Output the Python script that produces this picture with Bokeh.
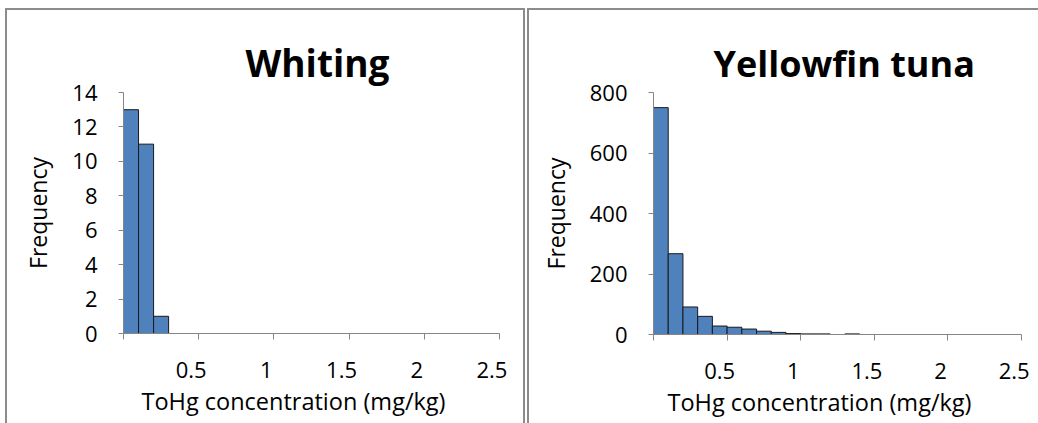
from bokeh.plotting import figure
from bokeh.models import FixedTicker, LinearAxis, Range1d, ColumnDataSource, Spacer, Title
from bokeh.layouts import row, column
from bokeh.embed import file_html
from bokeh.resources import INLINE

FONT = "Open Sans"
BIN_WIDTH = 0.1

# ---- data ----
whiting_bin_left = [0.0, 0.1, 0.2]
whiting_counts = [13, 11, 1]

tuna_bin_left = [0.0, 0.1, 0.2, 0.3, 0.4, 0.5, 0.6, 0.7, 0.8, 0.9, 1.0, 1.1, 1.2, 1.3]
tuna_counts = [750, 267, 91, 60, 28, 24, 18, 11, 7, 3, 2, 2, 0, 2]

x_tick_values = [0.0, 0.5, 1.0, 1.5, 2.0, 2.5]
x_tick_labels = ["0.5", "1", "1.5", "2", "2.5"]   # shown for ticks 0.5 .. 2.5

whiting_y_ticks = [0, 2, 4, 6, 8, 10, 12, 14]
tuna_y_ticks = [0, 200, 400, 600, 800]

AXIS_COLOR = "#868686"
BAR_COLOR = "#4f81bd"
BORDER = "2px solid #8c8c8c"


def make_panel(title, lefts, counts, yticks, ymax, frame_w, frame_h,
               mb_left, mb_right, mb_top, mb_bottom, title_size, title_offset,
               xtitle_offset, styles):
    p = figure(frame_width=frame_w, frame_height=frame_h,
               x_range=Range1d(0, 2.5), y_range=Range1d(0, ymax),
               output_backend="svg", toolbar_location=None,
               x_axis_location=None, y_axis_location=None,
               min_border_left=mb_left, min_border_right=mb_right,
               min_border_top=mb_top, min_border_bottom=mb_bottom,
               title=title, styles=styles)
    p.grid.visible = False
    p.outline_line_color = None
    p.background_fill_color = "white"
    p.border_fill_color = "white"

    p.title.text_font = FONT
    p.title.text_font_size = title_size
    p.title.text_font_style = "bold"
    p.title.text_color = "black"
    p.title.align = "left"
    p.title.offset = title_offset
    p.title.standoff = 10

    src = ColumnDataSource(dict(
        left=lefts,
        right=[l + BIN_WIDTH for l in lefts],
        top=counts,
    ))
    p.quad(left="left", right="right", top="top", bottom=0, source=src,
           fill_color=BAR_COLOR, line_color="#1a1a1a", line_width=1)

    # y axis
    ya = LinearAxis(ticker=FixedTicker(ticks=yticks))
    ya.axis_label = "Frequency"
    ya.axis_label_text_font = FONT
    ya.axis_label_text_font_size = "23px"
    ya.axis_label_text_font_style = "normal"
    ya.axis_label_text_color = "black"
    ya.axis_label_standoff = 15
    ya.major_label_text_font = FONT
    ya.major_label_text_font_size = "22px"
    ya.major_label_text_color = "black"
    ya.major_label_standoff = 21
    ya.axis_line_color = AXIS_COLOR
    ya.major_tick_line_color = AXIS_COLOR
    ya.major_tick_in = 0
    ya.major_tick_out = 5
    ya.minor_tick_line_color = None
    p.add_layout(ya, "left")

    # x axis: labels centred on the last bin below each tick,
    # tick marks at the bin boundaries (drawn as minor ticks)
    label_pos = [t - BIN_WIDTH / 2 for t in x_tick_values[1:]]
    xa = LinearAxis(ticker=FixedTicker(ticks=label_pos, minor_ticks=x_tick_values))
    xa.major_label_overrides = {pos: lab for pos, lab in zip(label_pos, x_tick_labels)}
    xa.major_label_text_font = FONT
    xa.major_label_text_font_size = "22px"
    xa.major_label_text_color = "black"
    xa.major_label_standoff = 22
    xa.axis_line_color = AXIS_COLOR
    xa.major_tick_line_color = None
    xa.major_tick_in = 0
    xa.major_tick_out = 6
    xa.minor_tick_line_color = AXIS_COLOR
    xa.minor_tick_in = 0
    xa.minor_tick_out = 6
    p.add_layout(xa, "below")

    # x-axis title (Excel places it slightly left of the plot centre)
    xt = Title(text="ToHg concentration (mg/kg)", align="left", offset=xtitle_offset,
               text_font=FONT, text_font_size="23.5px", text_font_style="normal",
               text_color="black", standoff=5)
    p.add_layout(xt, "below")
    return p


p1 = make_panel("Whiting", whiting_bin_left, whiting_counts, whiting_y_ticks, 14,
                372, 239, 116, 28, 82, 92, "37px", 122, 18,
                {"border-left": BORDER, "border-top": BORDER, "border-right": BORDER})
p2 = make_panel("Yellowfin tuna", tuna_bin_left, tuna_counts, tuna_y_ticks, 800,
                366, 240, 124, 19, 82, 91, "36px", 60, 14,
                {"border-left": BORDER, "border-top": BORDER})

layout = column(Spacer(height=8),
                row(Spacer(width=5), p1, Spacer(width=2), p2, spacing=0),
                spacing=0)
open("out.html", "w").write(file_html(layout, INLINE))
